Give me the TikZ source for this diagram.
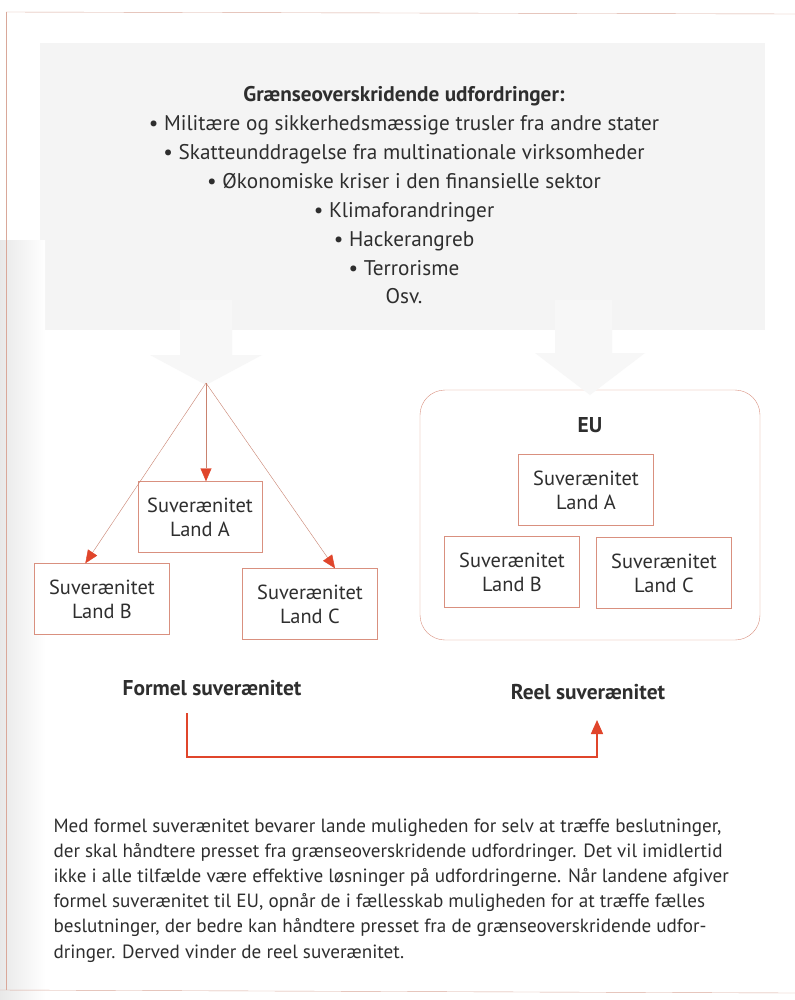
\documentclass[tikz,border=0pt]{standalone}
\usepackage{fontspec}
\setmainfont{PT Sans}
\usetikzlibrary{arrows.meta}
\definecolor{arrowred}{HTML}{E0452B}
\definecolor{thinred}{HTML}{C9826F}
\definecolor{boxline}{HTML}{D9907F}
\definecolor{txt}{HTML}{2E2E2E}
\definecolor{paleband}{HTML}{F4F4F4}
\definecolor{palearrow}{HTML}{F7F7F7}
\tikzset{
  landbox/.style={draw=boxline,thin,fill=white,text=txt,align=center,
    minimum width=135bp,minimum height=71bp,
    font=\fontsize{20.5}{24}\selectfont},
  headline/.style={text=txt,font=\bfseries\fontsize{21.5}{24}\selectfont},
  thinarrow/.style={draw=thinred,thin,
    -{Triangle[length=13bp,width=11bp,color=arrowred]}},
}
\begin{document}
\begin{tikzpicture}[x=1bp,y=-1bp]
  \useasboundingbox (0,0) rectangle (795,1000);
  % page tone, gutter and edges
  \fill[white] (0,0) rectangle (795,1000);
  \fill[paleband] (40,43) rectangle (765,330);
  \shade[left color=black!9,right color=white] (0,240) rectangle (45,1000);
  \draw[thinred!70,thin] (6,12) -- (795,14);
  \draw[thinred!70,thin] (6,12) -- (6,990);
  \draw[thinred!70,thin] (0,990) -- (795,993);
  % pale down arrows
  \fill[palearrow] (180,300) -- (232,300) -- (232,355) -- (262,355) -- (206,385)
    -- (150,355) -- (180,355) -- cycle;
  \node (udf) at (404,83) [anchor=north,align=center,text=txt,
    font=\fontsize{21.3}{29}\selectfont]
    {\textbf{Grænseoverskridende udfordringer:}\\
     • Militære og sikkerhedsmæssige trusler fra andre stater\\
     • Skatteunddragelse fra multinationale virksomheder\\
     • Økonomiske kriser i den finansielle sektor\\
     • Klimaforandringer\\
     • Hackerangreb\\
     • Terrorisme\\
     Osv.};
  % formel suveraenitet
  \coordinate (src) at (206,383);
  \begin{scope}[every node/.style={landbox}]
  \node (a) at (200,517) [minimum width=124bp] {Suverænitet\\Land A};
  \node (b) at (102,599) {Suverænitet\\Land B};
  \node (c) at (310,604) {Suverænitet\\Land C};
  \end{scope}
  \begin{scope}[every edge/.style={thinarrow}]
  \path (src) edge (src |- a.north);
  \path (src) edge (b.115);
  \path (src) edge (c.55);
  \end{scope}
  % reel suveraenitet
  \node (eu) at (590,515) [draw=boxline,thin,rounded corners=25bp,
    minimum width=340bp,minimum height=250bp] {};
  \fill[palearrow] (555,300) -- (612,300) -- (612,353) -- (645,353) -- (590,395)
    -- (535,353) -- (555,353) -- cycle;
  \node (eul) at (590,425) [headline] {EU};
  \begin{scope}[every node/.style={landbox}]
  \node (ea) at (586,490) {Suverænitet\\Land A};
  \node (eb) at (512,572) {Suverænitet\\Land B};
  \node (ec) at (664,573) {Suverænitet\\Land C};
  \end{scope}
  \node (fs) at (212,688) [headline] {Formel suverænitet};
  \node (rs) at (588,692) [headline] {Reel suverænitet};
  \coordinate (k1) at (187,713);
  \coordinate (k2) at (597,720);
  \coordinate (k3) at (597,757);
  \draw[arrowred,line width=1.6bp,
    -{Triangle[length=14bp,width=12bp]}] (k1) |- (k3) -- (k2);
  \node (txt) at (50,815) [anchor=north west,align=left,text=txt,
    font=\fontsize{19.2}{25.3}\selectfont]
    {Med formel suverænitet bevarer lande muligheden for selv at træffe beslutninger,\\
     der skal håndtere presset fra grænseoverskridende udfordringer. Det vil imidlertid\\
     ikke i alle tilfælde være effektive løsninger på udfordringerne. Når landene afgiver\\
     formel suverænitet til EU, opnår de i fællesskab muligheden for at træffe fælles\\
     beslutninger, der bedre kan håndtere presset fra de grænseoverskridende udfor-\\
     dringer. Derved vinder de reel suverænitet.};
\end{tikzpicture}
\end{document}
